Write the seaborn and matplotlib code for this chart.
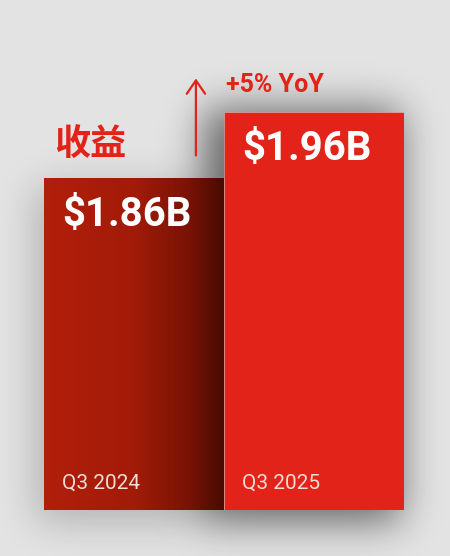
import numpy as np
import pandas as pd
import matplotlib
matplotlib.use("Agg")
import matplotlib.pyplot as plt
from matplotlib.colors import LinearSegmentedColormap
import seaborn as sns

# data
quarters = ["Q3 2024", "Q3 2025"]
revenue = [1.86, 1.96]
value_labels = ["$1.86B", "$1.96B"]
title = "收益"
growth_label = "+5% YoY"

BG = "#e3e3e3"
RED = "#e2231a"
DARK_RED = "#b01e0a"
YMIN, YMAX = 1.358, 2.069

sns.set_theme(style="white")
plt.rcParams["font.family"] = ["Roboto", "DejaVu Sans"]

W, H = 450, 556
fig = plt.figure(figsize=(W / 100, H / 100), dpi=100, facecolor=BG)

# background axes for the drop shadow
bg_ax = fig.add_axes([0, 0, 1, 1], zorder=0)
bg_ax.set_xlim(0, W)
bg_ax.set_ylim(0, H)
bg_ax.axis("off")

ax = fig.add_axes([44 / W, 46 / H, 360 / W, 470 / H], zorder=1)
ax.patch.set_alpha(0)

df = pd.DataFrame({"quarter": quarters, "revenue": revenue})
sns.barplot(data=df, x="quarter", y="revenue", hue="quarter",
            palette=[DARK_RED, RED], saturation=1, width=1.0, legend=False, ax=ax,
            edgecolor=(1, 1, 1, 0.3), linewidth=0.8)
ax.set_ylim(YMIN, YMAX)
ax.set_xlim(-0.5, 1.5)
ax.axis("off")

bars = ax.patches

# gradient on the previous-year bar
grad = LinearSegmentedColormap.from_list(
    "prev", [(0, "#b21f0b"), (0.5, "#a11b08"), (0.8, "#7a1305"), (1.0, "#480b02")])
b0 = bars[0]
x0 = b0.get_x()
im = ax.imshow(np.linspace(0, 1, 256)[None, :], cmap=grad, aspect="auto",
               extent=(x0, x0 + b0.get_width(), YMIN, b0.get_y() + b0.get_height()),
               zorder=b0.get_zorder() + 0.1)
ax.set_xlim(-0.5, 1.5)
ax.set_ylim(YMIN, YMAX)

# drop shadow built from the bars' rendered extents
fig.canvas.draw()
ax_bb = ax.get_window_extent()
mask = np.zeros((H, W))
for bar, strength, grow in zip(bars, [0.4, 1.0], [0, 12]):
    bb = bar.get_window_extent()
    r0, r1 = int(ax_bb.y0) - 12, int(bb.y1) - 8 + grow
    c0, c1 = int(bb.x0) - 8 - grow, int(bb.x1) - 4
    mask[r0:r1, c0:c1] = np.maximum(mask[r0:r1, c0:c1], strength)

def blur(a, sigma):
    k = np.arange(-3 * sigma, 3 * sigma + 1)
    g = np.exp(-k ** 2 / (2 * sigma ** 2))
    g /= g.sum()
    a = np.apply_along_axis(lambda r: np.convolve(r, g, mode="same"), 0, a)
    a = np.apply_along_axis(lambda r: np.convolve(r, g, mode="same"), 1, a)
    return a

shadow = blur(mask, 20)
rgba = np.zeros((H, W, 4))
rgba[..., 3] = shadow * 0.55
bg_ax.imshow(rgba, origin="lower", extent=(0, W, 0, H), aspect="auto")

# value labels and quarter labels inside the bars
for bar, vlab, q in zip(bars, value_labels, quarters):
    left = bar.get_x()
    top = bar.get_y() + bar.get_height()
    ax.annotate(vlab, xy=(left, top), xytext=(18, -37), textcoords="offset pixels",
                ha="left", va="center", color="white", fontsize=29,
                fontweight="bold", zorder=5)
    ax.annotate(q, xy=(left, YMIN), xytext=(18, 27), textcoords="offset pixels",
                ha="left", va="center", color="#f3dcd6", fontsize=15, zorder=5)

# title and growth arrow
ax.annotate(title, xy=(bars[0].get_x(), revenue[0]), xytext=(10, 33),
            textcoords="offset pixels", ha="left", va="center", color=RED,
            fontsize=26, fontweight="bold",
            family=["Noto Sans CJK SC", "DejaVu Sans"])
ax.annotate(growth_label, xy=(bars[1].get_x(), revenue[1]), xytext=(2, 27),
            textcoords="offset pixels", ha="left", va="center", color=RED,
            fontsize=18, fontweight="bold")
arrow_x = 0.344
ax.annotate("", xy=(arrow_x, revenue[1] + 0.055), xytext=(arrow_x, revenue[0] + 0.03),
            arrowprops=dict(arrowstyle="->,head_length=0.8,head_width=0.55",
                            color=RED, lw=1.6))

fig.savefig("out.png", dpi=100, facecolor=BG)
